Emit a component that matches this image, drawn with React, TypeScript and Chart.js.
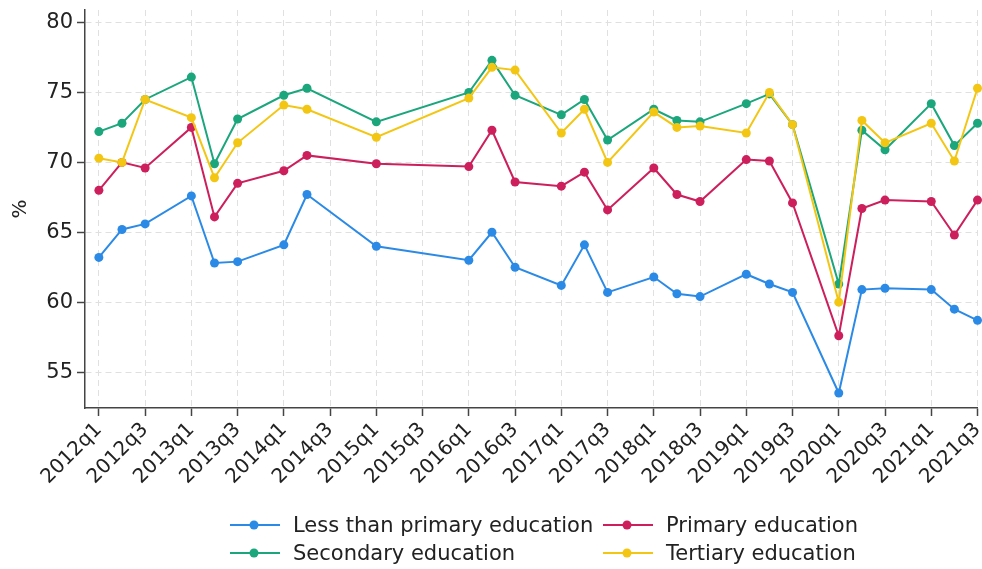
import React, { useEffect, useRef } from 'react';
import { Chart, registerables } from 'chart.js';

Chart.register(...registerables);

const quarters = [
  '2012q1', '2012q2', '2012q3', '2012q4',
  '2013q1', '2013q2', '2013q3', '2013q4',
  '2014q1', '2014q2', '2014q3', '2014q4',
  '2015q1', '2015q2', '2015q3', '2015q4',
  '2016q1', '2016q2', '2016q3', '2016q4',
  '2017q1', '2017q2', '2017q3', '2017q4',
  '2018q1', '2018q2', '2018q3', '2018q4',
  '2019q1', '2019q2', '2019q3', '2019q4',
  '2020q1', '2020q2', '2020q3', '2020q4',
  '2021q1', '2021q2', '2021q3',
];

const xTickLabels = [
  '2012q1', '2012q3', '2013q1', '2013q3', '2014q1', '2014q3', '2015q1', '2015q3',
  '2016q1', '2016q3', '2017q1', '2017q3', '2018q1', '2018q3', '2019q1', '2019q3',
  '2020q1', '2020q3', '2021q1', '2021q3',
];

const yTickValues = [55, 60, 65, 70, 75, 80];

const lessThanPrimary = [
  63.2, 65.2, 65.6, null,
  67.6, 62.8, 62.9, null,
  64.1, 67.7, null, null,
  64.0, null, null, null,
  63.0, 65.0, 62.5, null,
  61.2, 64.1, 60.7, null,
  61.8, 60.6, 60.4, null,
  62.0, 61.3, 60.7, null,
  53.5, 60.9, 61.0, null,
  60.9, 59.5, 58.7,
];

const primary = [
  68.0, 70.0, 69.6, null,
  72.5, 66.1, 68.5, null,
  69.4, 70.5, null, null,
  69.9, null, null, null,
  69.7, 72.3, 68.6, null,
  68.3, 69.3, 66.6, null,
  69.6, 67.7, 67.2, null,
  70.2, 70.1, 67.1, null,
  57.6, 66.7, 67.3, null,
  67.2, 64.8, 67.3,
];

const secondary = [
  72.2, 72.8, 74.5, null,
  76.1, 69.9, 73.1, null,
  74.8, 75.3, null, null,
  72.9, null, null, null,
  75.0, 77.3, 74.8, null,
  73.4, 74.5, 71.6, null,
  73.8, 73.0, 72.9, null,
  74.2, 74.9, 72.7, null,
  61.3, 72.3, 70.9, null,
  74.2, 71.2, 72.8,
];

const tertiary = [
  70.3, 70.0, 74.5, null,
  73.2, 68.9, 71.4, null,
  74.1, 73.8, null, null,
  71.8, null, null, null,
  74.6, 76.8, 76.6, null,
  72.1, 73.8, 70.0, null,
  73.6, 72.5, 72.6, null,
  72.1, 75.0, 72.7, null,
  60.0, 73.0, 71.4, null,
  72.8, 70.1, 75.3,
];

const seriesNames = [
  'Less than primary education',
  'Primary education',
  'Secondary education',
  'Tertiary education',
];
const seriesValues = [lessThanPrimary, primary, secondary, tertiary];
const seriesColors = ['#2b8ae6', '#cc1f5c', '#1ba67b', '#f3c614'];

const FONT = "'DejaVu Sans', sans-serif";
const TEXT = '#222222';

function LegendItem({ x, y, color, label }: { x: number; y: number; color: string; label: string }) {
  return (
    <div
      style={{
        position: 'absolute',
        left: x,
        top: y - 14,
        height: 28,
        display: 'flex',
        alignItems: 'center',
        whiteSpace: 'nowrap',
        fontFamily: FONT,
        fontSize: 21,
        color: TEXT,
      }}
    >
      <svg width={50} height={12} style={{ marginRight: 13 }}>
        <line x1={0} y1={6} x2={50} y2={6} stroke={color} strokeWidth={2} />
        <circle cx={24} cy={6} r={4.5} fill={color} />
      </svg>
      <span>{label}</span>
    </div>
  );
}

export default function App() {
  const ref = useRef<HTMLCanvasElement | null>(null);

  useEffect(() => {
    document.body.style.margin = '0';
    if (!ref.current) return;
    const toPoints = (arr: (number | null)[]) =>
      arr
        .map((v, i) => (v == null ? null : { x: i, y: v }))
        .filter((p) => p !== null) as { x: number; y: number }[];

    const chart = new Chart(ref.current, {
      type: 'line',
      data: {
        datasets: seriesValues.map((vals, k) => ({
          label: seriesNames[k],
          data: toPoints(vals),
          borderColor: seriesColors[k],
          backgroundColor: seriesColors[k],
          pointBackgroundColor: seriesColors[k],
          pointBorderColor: seriesColors[k],
          pointBorderWidth: 0,
          pointRadius: 4.5,
          borderWidth: 2,
          tension: 0,
          clip: false as any,
          order: seriesValues.length - k,
        })),
      },
      options: {
        responsive: false,
        animation: false,
        layout: { padding: { top: 10, right: 3, left: 0, bottom: 0 } },
        plugins: {
          legend: { display: false },
          tooltip: { enabled: false },
        },
        scales: {
          x: {
            type: 'linear',
            min: -0.6,
            max: 38,
            afterBuildTicks: (scale: any) => {
              scale.ticks = xTickLabels.map((l) => ({ value: quarters.indexOf(l) }));
            },
            afterFit: (scale: any) => {
              scale.height = 161;
              scale.paddingLeft = 0;
              scale.paddingRight = 0;
            },
            ticks: {
              autoSkip: false,
              minRotation: 45,
              maxRotation: 45,
              padding: 2,
              color: TEXT,
              font: { family: FONT, size: 20 },
              callback: (v: any) => quarters[Number(v)] ?? '',
            },
            grid: {
              color: '#e0e0e0',
              lineWidth: 1,
              tickColor: '#444444',
              tickLength: 8,
              tickWidth: 1.5,
            },
            border: { display: true, color: '#444444', width: 1.5, dash: [6, 4] },
          },
          y: {
            type: 'linear',
            min: 52.43,
            max: 80.9,
            afterBuildTicks: (scale: any) => {
              scale.ticks = yTickValues.map((v) => ({ value: v }));
            },
            afterFit: (scale: any) => {
              scale.width = 85;
              scale.paddingTop = 0;
              scale.paddingBottom = 0;
            },
            title: {
              display: true,
              text: '%',
              color: TEXT,
              font: { family: FONT, size: 20 },
              padding: { top: 9, bottom: 0 },
            },
            ticks: {
              padding: 4,
              color: TEXT,
              font: { family: FONT, size: 21 },
              callback: (v: any) => String(v),
            },
            grid: {
              color: '#e0e0e0',
              lineWidth: 1,
              tickColor: '#444444',
              tickLength: 8,
              tickWidth: 1.5,
            },
            border: { display: true, color: '#444444', width: 1.5, dash: [6, 4] },
          },
        },
      },
    } as any);
    return () => chart.destroy();
  }, []);

  return (
    <div style={{ position: 'absolute', left: 0, top: 0, width: 982, height: 569, background: '#fff' }}>
      <canvas ref={ref} width={982} height={569} style={{ position: 'absolute', left: 0, top: 0 }} />
      <LegendItem x={230} y={525} color={seriesColors[0]} label={seriesNames[0]} />
      <LegendItem x={603} y={525} color={seriesColors[1]} label={seriesNames[1]} />
      <LegendItem x={230} y={553} color={seriesColors[2]} label={seriesNames[2]} />
      <LegendItem x={603} y={553} color={seriesColors[3]} label={seriesNames[3]} />
    </div>
  );
}
